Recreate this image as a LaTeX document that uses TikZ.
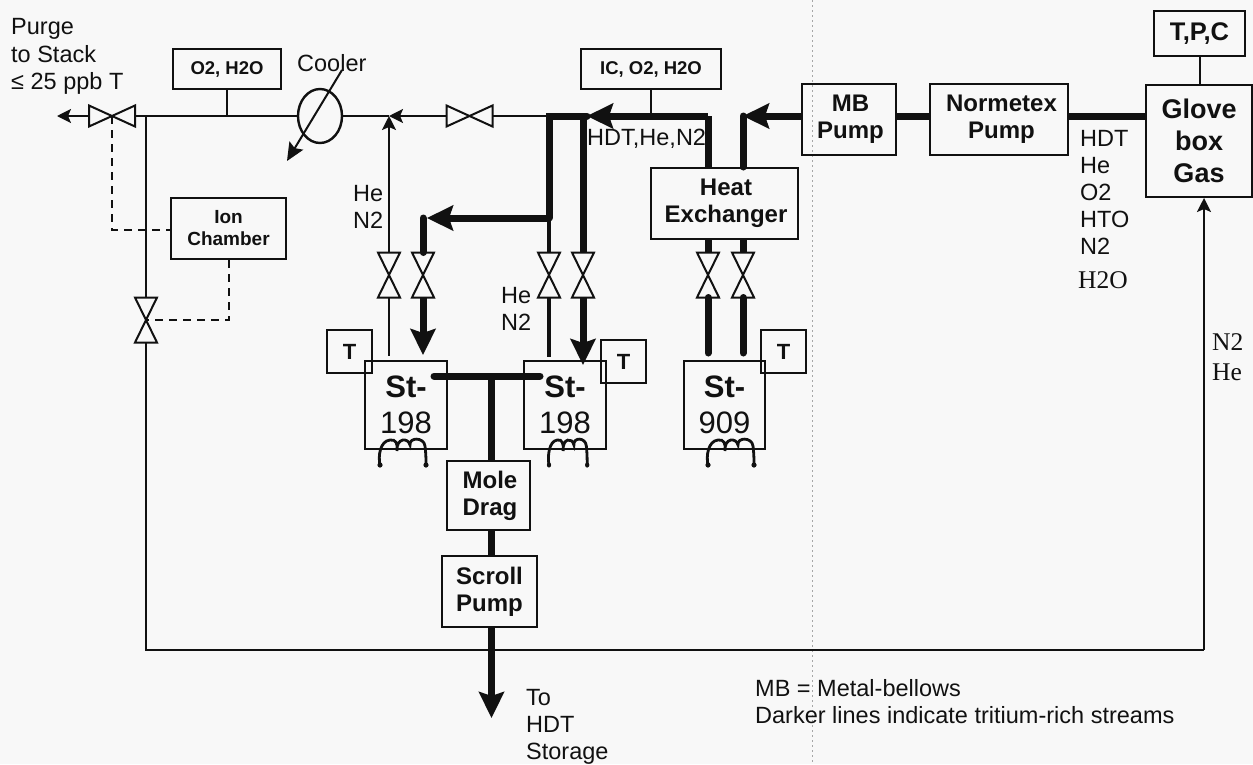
\documentclass[tikz,border=0pt]{standalone}
\usepackage{fontspec}
\setmainfont{Liberation Sans}
\newfontfamily\serifx{Liberation Serif}
\usetikzlibrary{arrows.meta,calc,shapes.geometric}
\definecolor{paper}{HTML}{F8F8F8}
\definecolor{ink}{HTML}{111111}
\newcommand{\fs}[2]{\fontsize{#1}{#2}\selectfont}
\tikzset{
  box/.style={draw=ink,line width=2pt,inner sep=0pt,align=center,font=\bfseries\fs{24}{27},text=ink},
  lbl/.style={inner sep=0pt,align=left,text=ink,font=\fs{23.5}{27}},
  valvenode/.style={inner sep=0pt,outer sep=0pt},
  valveline/.style={draw=ink,line width=2pt,line join=miter,fill=paper},
  thin line/.style={draw=ink,line width=2pt},
  mid line/.style={draw=ink,line width=3.5pt},
  heavy/.style={draw=ink,line width=7pt,line cap=round},
  heavy butt/.style={draw=ink,line width=7pt},
  small arrow/.style={-{Stealth[length=14pt,width=14pt,inset=3pt]}},
  big arrow/.style={-{Stealth[length=26pt,width=25pt,inset=4pt]}},
  dashline/.style={draw=ink,line width=2pt,dash pattern=on 8pt off 6pt},
  coilline/.style={draw=ink,line width=2.8pt,line cap=round}
}
\newcommand{\hvalve}[2]{\node[valvenode,minimum width=46pt,minimum height=21pt] (#1) at (#2) {};
  \draw[valveline] (#1.north west)--(#1.south west)--(#1.north east)--(#1.south east)--cycle;}
\newcommand{\vvalve}[2]{\node[valvenode,minimum width=22pt,minimum height=45pt] (#1) at (#2) {};
  \draw[valveline] (#1.north west)--(#1.north east)--(#1.south west)--(#1.south east)--cycle;}
\newcommand{\coil}[2]{\begin{scope}[shift={(#1)},xscale=#2]
  \draw[coilline] (0,17) .. controls (-2,8) and (0,-7) .. (10,-8) .. controls (16,-9) and (18,-4) .. (17,3)
    .. controls (16,-10) and (28,-11) .. (30,-3) .. controls (29,-11) and (44,-11) .. (45,-2) .. controls (46,6) and (46,12) .. (46,17);
  \fill[ink] (0,17) circle (2.6pt) (46,17) circle (2.6pt);
\end{scope}}
\begin{document}
\begin{tikzpicture}[x=1pt,y=-1pt]
\useasboundingbox (0,0) rectangle (1253,764);
\fill[paper] (0,0) rectangle (1253,764);
% faint scan fold
\draw[black!35,line width=0.7pt,dash pattern=on 2pt off 3pt] (812.5,0) -- (812.5,764);

% boxes
\node[box,minimum width=108pt,minimum height=40pt,font=\bfseries\fs{18.5}{22}] (o2) at (227,69) {O2, H2O};
\node[box,minimum width=140pt,minimum height=40pt,font=\bfseries\fs{18.5}{22}] (ic) at (651,69) {IC, O2, H2O};
\node[box,minimum width=115pt,minimum height=61pt,font=\bfseries\fs{19}{22}] (ion) at (228.5,228.5) {Ion\\Chamber};
\node[box,minimum width=147pt,minimum height=71pt] (hx) at (724.5,203.5) {\hspace*{3pt}Heat\\\hspace*{3pt}Exchanger};
\node[box,minimum width=94pt,minimum height=71pt] (mb) at (849,119.5) {\hspace*{3pt}MB\\\hspace*{3pt}Pump};
\node[box,minimum width=138pt,minimum height=71pt] (norm) at (999,119.5) {\hspace*{5pt}Normetex\\\hspace*{5pt}Pump};
\node[box,minimum width=106pt,minimum height=112pt,font=\bfseries\fs{27}{32}] (glove) at (1199,141) {Glove\\box\\Gas};
\node[box,minimum width=91pt,minimum height=45pt,font=\bfseries\fs{25.5}{27}] (tpc) at (1199.5,33.5) {T,P,C};
\node[box,minimum width=82pt,minimum height=88pt,font=\bfseries\fs{31}{36}] (st1) at (406,405) {St-\\[0pt]\mdseries 198};
\node[box,minimum width=82pt,minimum height=88pt,font=\bfseries\fs{31}{36}] (st2) at (565,405) {St-\\[0pt]\mdseries 198};
\node[box,minimum width=81pt,minimum height=88pt,font=\bfseries\fs{31}{36}] (st3) at (724.5,405) {St-\\[0pt]\mdseries 909};
\node[box,minimum width=45pt,minimum height=43pt,font=\bfseries\fs{22}{26}] (t1) at (349.5,351.5) {T};
\node[box,minimum width=45pt,minimum height=43pt,font=\bfseries\fs{22}{26}] (t2) at (623.5,361.5) {T};
\node[box,minimum width=45pt,minimum height=43pt,font=\bfseries\fs{22}{26}] (t3) at (783.5,351.5) {T};
\node[box,minimum width=83pt,minimum height=69pt] (mole) at (488.5,495.5) {\hspace*{3pt}Mole\\\hspace*{3pt}Drag};
\node[box,minimum width=95pt,minimum height=71pt] (scroll) at (489.5,591.5) {Scroll\\Pump};
\node[draw=ink,line width=2.4pt,ellipse,minimum width=44pt,minimum height=54pt,inner sep=0pt] (cool) at (320,116) {};

% valves
\hvalve{vp}{112,116}
\hvalve{vm}{469.5,116}
\vvalve{vb}{146,320}
\vvalve{va}{389,275}
\vvalve{vc}{423,275}
\vvalve{vd}{549,275}
\vvalve{ve}{583,275}
\vvalve{vf}{708,275}
\vvalve{vg}{743,275}

% named free ends and junctions
\coordinate (purge) at (57,116);
\coordinate (jleft) at (146,116);
\coordinate (jo2) at (o2.south |- jleft);
\coordinate (jin) at (389,116);
\coordinate (jic) at (ic.south |- jleft);
\coordinate (jt) at (549,116);
\coordinate (ja) at (583,116);
\coordinate (jhead) at (587,116);
\coordinate (jhx) at (708,116);
\coordinate (jhy) at (743,116);
\coordinate (jbr) at (549,218);
\coordinate (jbl) at (423,218);
\coordinate (jbtip) at (427,218);
\coordinate (cl) at (146,650);
\coordinate (cr) at (1204,650);
\coordinate (coolA) at (342,70);
\coordinate (coolB) at (287,161);
\coordinate (tipc) at (423,355);
\coordinate (tipe) at (583,365);
\coordinate (barL) at (434,376);
\coordinate (barR) at (540,376);
\coordinate (barM) at (491.5,376);
\coordinate (store) at (491.5,718);
\coordinate (dk1) at (112,230);
\coordinate (dk2) at (228.5,320);

% thin process lines
\draw[thin line,small arrow] (vp.west) -- (purge);
\draw[thin line] (vp.east) -- (cool.west);
\draw[thin line] (o2.south) -- (jo2);
\draw[thin line] (ic.south) -- (jic);
\draw[thin line,small arrow] (vm.west) -- (jin);
\draw[thin line] (cool.east) -- (jin);
\draw[thin line] (jt) -- (vm.east);
\draw[thin line] (jleft) -- (vb.north);
\draw[thin line] (vb.south) -- (cl) -- (cr);
\draw[thin line,small arrow] (cr) -- (glove.south -| cr);
\draw[thin line] (tpc.south) -- (glove.north -| tpc.south);
\draw[thin line,small arrow] (va.north) -- (jin);
\draw[thin line] (va.south) -- ($(va.south |- st1.north)+(0,-4)$);
\draw[mid line] (jbr) -- (vd.north);
\draw[mid line] (vd.south) -- ($(vd.south |- st2.north)+(0,-3)$);
\draw[thin line,-{Stealth[length=18pt,width=16pt,inset=3pt]}] (coolA) -- (coolB);

% heavy tritium-rich lines
\draw[heavy butt] (norm.east |- jhx) -- (glove.west |- jhx);
\draw[heavy butt] (mb.east |- jhx) -- (norm.west |- jhx);
\draw[heavy butt,big arrow] (mb.west |- jhx) -- (jhy);
\draw[heavy] (jhy) -- (hx.north -| jhy);
\draw[heavy butt,big arrow] (jhx) -- (jhead);
\draw[heavy] (jhead) -- (jt) -- (jbr);
\draw[heavy butt] (jhx) -- (hx.north -| jhx);
\draw[heavy butt] (ja) -- (ve.north);
\draw[heavy butt,big arrow] (jbr) -- (jbtip);
\draw[heavy] (jbl) -- (vc.north);
\draw[heavy butt,big arrow] (vc.south) -- (tipc);
\draw[heavy butt,big arrow] (ve.south) -- (tipe);
\draw[heavy butt] (hx.south -| vf.north) -- (vf.north);
\draw[heavy butt] (hx.south -| vg.north) -- (vg.north);
\draw[heavy] (vf.south) -- ($(vf.south |- st3.north)+(0,-7)$);
\draw[heavy] (vg.south) -- ($(vg.south |- st3.north)+(0,-7)$);
\draw[heavy] (barL) -- (barR);
\draw[heavy butt] (barM) -- (mole.north -| barM);
\draw[heavy butt] (mole.south -| barM) -- (scroll.north -| barM);
\draw[heavy butt,big arrow] (scroll.south -| barM) -- (store);

% signal lines
\draw[dashline] (vp.center) -- (dk1) -- (ion.west |- dk1);
\draw[dashline] (ion.south) -- (dk2) -- (vb.center);

% heater coils
\coil{380,448}{1}
\coil{549,448}{0.83}
\coil{708,448}{1}

% labels
\node[lbl,anchor=west] (p1) at (11,29) {Purge};
\node[lbl,anchor=west] (p2) at (11,54) {to Stack};
\node[lbl,anchor=west] (p3) at (11,83) {≤ 25 ppb T};
\node[lbl,anchor=west] (coollbl) at (297,63) {Cooler};
\node[lbl,anchor=north west] (he1) at (353,185) {He\\N2};
\node[lbl,anchor=north west] (he2) at (501,287) {He\\N2};
\node[lbl,anchor=west] (hdt) at (587,139) {HDT,He,N2};
\node[lbl,anchor=north west] (gases) at (1080,130) {HDT\\He\\O2\\HTO\\N2};
\node[lbl,anchor=west,font=\serifx\fs{25.5}{27}] (h2o) at (1078,280) {H2O};
\node[lbl,anchor=north west,font=\serifx\fs{25.5}{30}] (n2he) at (1212,333) {N2\\He};
\node[lbl,anchor=north west] (tostore) at (526,689) {To\\HDT\\Storage};
\node[lbl,anchor=north west] (legend) at (755,679) {MB = Metal-bellows\\Darker lines indicate tritium-rich streams};
\end{tikzpicture}
\end{document}
